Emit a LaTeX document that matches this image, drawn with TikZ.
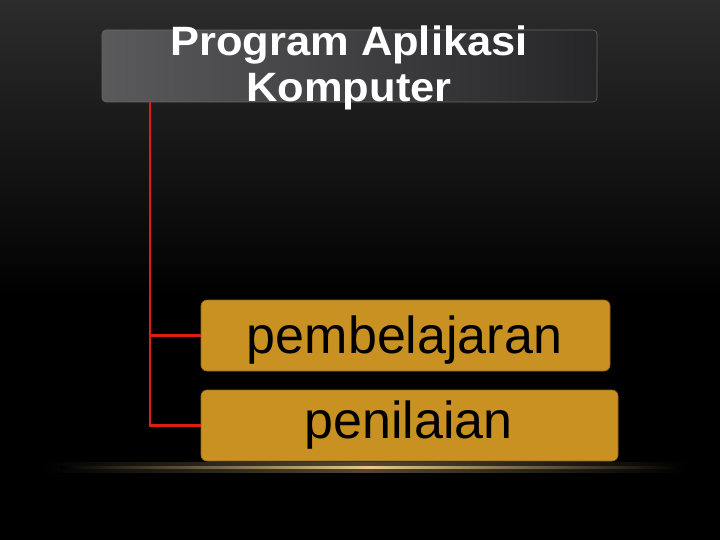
\documentclass[tikz,border=0pt]{standalone}
\usepackage{fontspec}
\setmainfont{Liberation Sans}
\definecolor{gold}{RGB}{201,145,33}
\definecolor{goldedge}{RGB}{150,105,25}
\definecolor{redline}{RGB}{220,30,25}
\definecolor{glow}{RGB}{235,200,140}
\definecolor{boxL}{RGB}{90,90,93}
\definecolor{boxR}{RGB}{38,38,40}
\begin{document}
\begin{tikzpicture}[x=1pt,y=-1pt,
  titlebox/.style={rectangle, rounded corners=4pt, minimum width=495pt, minimum height=72pt, inner sep=0pt,
    left color=boxL, right color=boxR, draw=boxR!70!white, line width=0.6pt},
  titletext/.style={text=white, font=\bfseries\fontsize{41}{46}\selectfont, align=center, inner sep=0pt},
  goldbox/.style={rectangle, rounded corners=6pt, fill=gold, draw=goldedge, line width=0.6pt, inner sep=0pt, minimum height=71pt},
  goldtext/.style={text=black, font=\fontsize{52}{60}\selectfont, inner sep=0pt, anchor=base},
  connector/.style={draw=redline, line width=2.4pt}]
\useasboundingbox (0,0) rectangle (720,540);
% background
\fill[black] (0,0) rectangle (720,540);
\shade[top color={rgb,255:red,44;green,44;blue,44}, bottom color=black] (0,0) rectangle (720,300);
% glow line
\shade[left color=black, right color=black, middle color=glow!60!black, opacity=0.6] (40,462) rectangle (690,472);
\shade[left color=black, right color=black, middle color=glow] (60,466) rectangle (680,468.5);
% title
\node[titlebox] (top) at (349.5,66) {};
\node[titletext] (toptext) at (349,67.5) {\scalebox{1.06}[1]{Program Aplikasi}\\\scalebox{1.06}[1]{Komputer}};
% boxes
\node[goldbox, minimum width=409pt] (b1) at (405.5,335.5) {};
\node[goldtext] (t1) at (404.5,353) {pembelajaran};
\node[goldbox, minimum width=417pt] (b2) at (409.5,425.5) {};
\node[goldtext] (t2) at (408.5,438) {penilaian};
% connectors
\coordinate (trunk) at (150,102);
\draw[connector] (trunk) |- (b1.west);
\draw[connector] (trunk) |- (b2.west);
\end{tikzpicture}
\end{document}
